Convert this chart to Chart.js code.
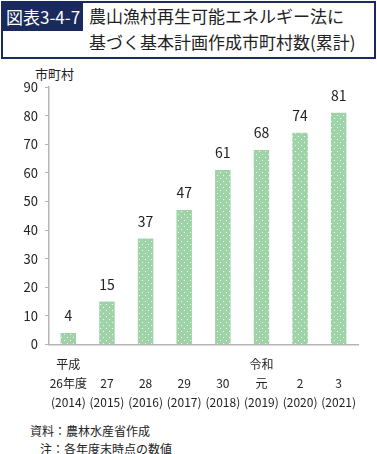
<!DOCTYPE html>
<html lang="ja">
<head>
<meta charset="UTF-8">
<title>農山漁村再生可能エネルギー法に基づく基本計画作成市町村数(累計)</title>
<script src="https://cdn.jsdelivr.net/npm/chart.js"></script>
<style>
    body {
        margin: 0;
        width: 377px;
        height: 454px;
        position: relative;
        font-family: "Noto Sans CJK JP", "Noto Sans", sans-serif;
        color: #222;
        background: #fff;
    }
    #head {
        position: absolute;
        left: 1px; top: 1px;
        width: 371px; height: 54px;
        border: 2px solid #1b2a5c;
    }
    #tag {
        position: absolute;
        left: 0; top: 0;
        height: 28px;
        padding: 0 3px;
        background: #1b2a5c;
        color: #fff;
        font-size: 17px;
        line-height: 28px;
    }
    #ttl {
        position: absolute;
        left: 86px; top: 0;
        font-size: 17px;
        line-height: 26px;
    }
    #unit {
        position: absolute;
        left: 35px; top: 64px;
        font-size: 13px;
    }
    #chartBox {
        position: absolute;
        left: 0; top: 60px;
        width: 377px; height: 362px;
    }
    .note {
        position: absolute;
        font-size: 12px;
    }
</style>
</head>
<body>
<div id="head">
    <div id="tag">図表3-4-7</div>
    <div id="ttl">農山漁村再生可能エネルギー法に<br>基づく基本計画作成市町村数(累計)</div>
</div>
<div id="unit">市町村</div>
<div id="chartBox"><canvas id="barChart"></canvas></div>
<div class="note" style="left:30px; top:422px;">資料：農林水産省作成</div>
<div class="note" style="left:40px; top:440px;">注：各年度末時点の数値</div>

<script>
const eras = ["平成", "", "", "", "", "令和", "", ""];
const fiscalYears = ["26年度", "27", "28", "29", "30", "元", "2", "3"];
const westernYears = ["(2014)", "(2015)", "(2016)", "(2017)", "(2018)", "(2019)", "(2020)", "(2021)"];
const counts = [4, 15, 37, 47, 61, 68, 74, 81];

const labels = fiscalYears.map((fy, i) => [eras[i], fy, westernYears[i]]);

// green fill with small white dots
function dotPattern() {
    const c = document.createElement('canvas');
    c.width = 6; c.height = 6;
    const g = c.getContext('2d');
    g.fillStyle = '#9dd3a7';
    g.fillRect(0, 0, 6, 6);
    g.fillStyle = 'rgba(255,255,255,0.85)';
    g.fillRect(1, 1, 1, 1);
    g.fillRect(4, 4, 1, 1);
    return g.createPattern(c, 'repeat');
}

const valueLabels = {
    id: 'valueLabels',
    afterDatasetsDraw(chart) {
        const ctx = chart.ctx;
        const meta = chart.getDatasetMeta(0);
        ctx.save();
        ctx.font = '14px "Noto Sans CJK JP", sans-serif';
        ctx.fillStyle = '#222';
        ctx.textAlign = 'center';
        ctx.textBaseline = 'middle';
        meta.data.forEach((bar, i) => {
            ctx.fillText(String(counts[i]), bar.x, bar.y - 17);
        });
        ctx.restore();
    }
};

new Chart(document.getElementById('barChart'), {
    type: 'bar',
    data: {
        labels,
        datasets: [{
            data: counts,
            backgroundColor: dotPattern(),
            barPercentage: 0.4,
            categoryPercentage: 1
        }]
    },
    options: {
        responsive: true,
        maintainAspectRatio: false,
        animation: false,
        layout: { padding: { top: 27, right: 19, left: 0, bottom: 0 } },
        plugins: {
            legend: { display: false },
            tooltip: { enabled: false }
        },
        scales: {
            x: {
                grid: { display: true, drawOnChartArea: false, drawTicks: false },
                border: { color: '#b5b5b5', width: 1.5 },
                ticks: {
                    color: '#222',
                    padding: 10,
                    maxRotation: 0,
                    autoSkip: false,
                    font: { family: '"Noto Sans CJK JP", sans-serif', size: 12, lineHeight: 1.6 }
                }
            },
            y: {
                min: 0,
                max: 90,
                afterFit(scale) { scale.width = 49; },
                grid: { drawOnChartArea: false, tickLength: 4, color: '#b5b5b5' },
                border: { color: '#b5b5b5', width: 1.5 },
                ticks: {
                    stepSize: 10,
                    color: '#222',
                    padding: 7,
                    font: { family: '"Noto Sans CJK JP", sans-serif', size: 13 }
                }
            }
        }
    },
    plugins: [valueLabels]
});
</script>
</body>
</html>
